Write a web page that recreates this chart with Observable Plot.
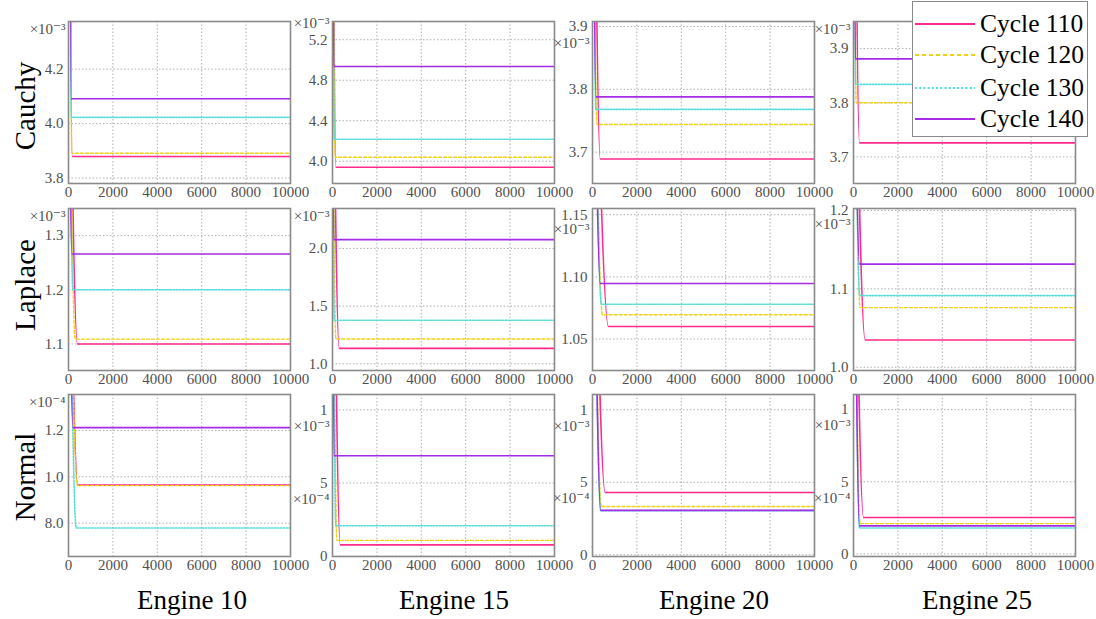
<!DOCTYPE html>
<html><head><meta charset="utf-8">
<script src="https://cdn.jsdelivr.net/npm/d3@7"></script>
<script src="https://cdn.jsdelivr.net/npm/@observablehq/plot@0.6"></script>
<style>
body{margin:0;background:#fff;}
#root{position:relative;width:1096px;height:619px;overflow:hidden;font-family:"Liberation Serif","DejaVu Serif",serif;background:#fff;}
.panel{position:absolute;background:transparent !important;overflow:visible;}
.panel text{font-family:"Liberation Serif","DejaVu Serif",serif !important;font-size:15px !important;fill:#505050;}
.rowlab{position:absolute;font-size:29px;color:#000;white-space:nowrap;transform:translate(-50%,-50%) rotate(-90deg);}
.collab{position:absolute;font-size:27px;color:#000;white-space:nowrap;transform:translate(-50%,-50%);}
#legend{position:absolute;left:912px;top:1px;width:176px;height:136px;border:1.5px solid #8a8a8a;background:#fff;z-index:10;box-sizing:border-box;}
.lrow{position:absolute;left:0;height:30px;display:flex;align-items:center;}
.lrow span{font-size:25.5px;margin-left:3px;color:#000;}
</style></head>
<body><div id="root"></div>
<script>
// ---------------- data ----------------
const cycles = ["Cycle 110", "Cycle 120", "Cycle 130", "Cycle 140"];
const engines = ["Engine 10", "Engine 15", "Engine 20", "Engine 25"];
const dists = ["Cauchy", "Laplace", "Normal"];
const iterTicks = [0, 2000, 4000, 6000, 8000, 10000];

// final loss (×10⁻³), per engine, in cycle order 110,120,130,140
const cauchyFinal = [
  [3.879, 3.891, 4.023, 4.091],
  [3.940, 4.040, 4.217, 4.935],
  [3.689, 3.744, 3.768, 3.788],
  [3.726, 3.800, 3.834, 3.881]];
const laplaceFinal = [
  [1.100, 1.109, 1.200, 1.266],
  [1.134, 1.215, 1.378, 2.076],
  [1.0601, 1.0695, 1.078, 1.0947],
  [1.0347, 1.076, 1.0914, 1.1316]];
const normalFinal = [
  [0.0964, 0.0962, 0.0779, 0.1212],
  [0.0775, 0.108, 0.208, 0.686],
  [0.429, 0.333, 0.304, 0.306],
  [0.252, 0.210, 0.180, 0.194]];

// iteration at which each curve levels off
const cauchyKnee = [[170, 150, 130, 120], [150, 120, 80, 50], [350, 200, 150, 150], [270, 120, 100, 80]];
const laplaceKnee = [[400, 300, 200, 150], [300, 150, 80, 50], [720, 450, 400, 350], [525, 300, 280, 270]];
const normalKnee = [[420, 400, 350, 200], [350, 200, 150, 60], [570, 400, 370, 370], [450, 300, 270, 270]];

// loss at iteration 0 (×10⁻³), per engine
const cauchyStart = [7.0, 8.5, 4.6, 4.8];
const laplaceStart = [1.9, 4.5, 1.45, 1.6];
const normalStart = [0.25, 3.5, 3.5, 3.5];

// y domains (×10⁻³)
const cauchyDomain = [[3.78, 4.375], [3.78, 5.38], [3.65, 3.908], [3.651, 3.95]];
const laplaceDomain = [[1.051, 1.35], [0.942, 2.346], [1.0247, 1.155], [0.9958, 1.2026]];
const normalDomain = [[0.0656, 0.1355], [-0.002, 1.105], [-0.012, 1.105], [-0.018, 1.105]];

// y ticks and their labels
const cauchyTicks = [[3.8, 4.0, 4.2], [4.0, 4.4, 4.8, 5.2], [3.7, 3.8, 3.9], [3.7, 3.8, 3.9]];
const cauchyTickLabels = [["3.8", "4.0", "4.2"], ["4.0", "4.4", "4.8", "5.2"], ["3.7", "3.8", "3.9"], ["3.7", "3.8", "3.9"]];
const laplaceTicks = [[1.1, 1.2, 1.3], [1.0, 1.5, 2.0], [1.05, 1.10, 1.15], [1.0, 1.1, 1.2]];
const laplaceTickLabels = [["1.1", "1.2", "1.3"], ["1.0", "1.5", "2.0"], ["1.05", "1.10", "1.15"], ["1.0", "1.1", "1.2"]];
const normalTicks = [[0.08, 0.10, 0.12], [0, 0.5, 1], [0, 0.5, 1], [0, 0.5, 1]];
const normalTickLabels = [["8.0", "1.0", "1.2"], ["0", "5", "1"], ["0", "5", "1"], ["0", "5", "1"]];

// exponent labels: [text, anchor value (null = top of frame)]
const cauchyExp = [[["×10⁻³", null]], [["×10⁻³", null]], [["×10⁻³", 3.9]], [["×10⁻³", null]]];
const laplaceExp = [[["×10⁻³", null]], [["×10⁻³", null]], [["×10⁻³", 1.15]], [["×10⁻³", 1.2]]];
const normalExp = [[["×10⁻⁴", null]], [["×10⁻³", 1], ["×10⁻⁴", 0.5]], [["×10⁻³", 1], ["×10⁻⁴", 0.5]], [["×10⁻³", 1], ["×10⁻⁴", 0.5]]];

// ---------------- styling / layout ----------------
const cycleStyle = [
  {stroke: "#ff2a8c", dash: null, w: 1.6},
  {stroke: "#ecd21a", dash: "3,2", w: 1.4},
  {stroke: "#55dcdc", dash: "1.5,1.5", w: 1.6},
  {stroke: "#a52be6", dash: null, w: 1.6}
];
const colLeft = [68, 332, 592, 853];
const rowTop = [21, 208, 394];
const PW = 222, PH = 162;
const ML = 48, MR = 14, MT = 14, MB = 26;

const rows = [
  {final: cauchyFinal, knee: cauchyKnee, start: cauchyStart, domain: cauchyDomain, ticks: cauchyTicks, labels: cauchyTickLabels, exp: cauchyExp},
  {final: laplaceFinal, knee: laplaceKnee, start: laplaceStart, domain: laplaceDomain, ticks: laplaceTicks, labels: laplaceTickLabels, exp: laplaceExp},
  {final: normalFinal, knee: normalKnee, start: normalStart, domain: normalDomain, ticks: normalTicks, labels: normalTickLabels, exp: normalExp}
];

const root = document.getElementById("root");

rows.forEach((R, ri) => {
  engines.forEach((eng, ei) => {
    const dom = R.domain[ei];
    const ticks = R.ticks[ei];
    const labs = R.labels[ei];
    const lineMarks = cycles.map((c, ci) => {
      const pts = [
        {it: 0, v: R.start[ei]},
        {it: R.knee[ei][ci], v: R.final[ei][ci]},
        {it: 10000, v: R.final[ei][ci]}
      ];
      const s = cycleStyle[ci];
      return Plot.line(pts, {x: "it", y: "v", stroke: s.stroke, strokeWidth: s.w,
        strokeDasharray: s.dash || undefined, curve: "monotone-x", clip: true});
    });
    const expMarks = R.exp[ei].map(([t, yv]) => {
      const top = yv === null;
      const topGap = (ri === 0 && ei === 1) ? 2 : 8;
      return Plot.text([{t, y: top ? dom[1] : yv}], {
        y: "y", text: "t", frameAnchor: "left", textAnchor: "end",
        dx: -3, dy: top ? topGap : (ri === 2 ? 16 : (ri === 0 ? 17 : 14))
      });
    });
    const chart = Plot.plot({
      width: PW + ML + MR, height: PH + MT + MB,
      marginLeft: ML, marginRight: MR, marginTop: MT, marginBottom: MB,
      style: "background:transparent;overflow:visible;font-family:'Liberation Serif',serif;font-size:15px;",
      x: {domain: [0, 10000], ticks: iterTicks, tickFormat: d => String(d), tickSize: 0, tickPadding: 3, label: null},
      y: {domain: dom, ticks: ticks, tickFormat: d => labs[ticks.indexOf(d)], tickSize: 0, tickPadding: 5, label: null},
      marks: [
        Plot.ruleX(iterTicks, {stroke: "#b0b0b0", strokeDasharray: "1.5,2", strokeWidth: 1}),
        Plot.ruleY(ticks, {stroke: "#b0b0b0", strokeDasharray: "1.5,2", strokeWidth: 1}),
        ...lineMarks,
        Plot.frame({stroke: "#8a8a8a", strokeWidth: 1.6}),
        ...expMarks
      ]
    });
    chart.classList.add("panel");
    chart.style.left = (colLeft[ei] - ML) + "px";
    chart.style.top = (rowTop[ri] - MT) + "px";
    root.appendChild(chart);
  });
});

// row labels
const rowLabelY = [106, 285, 477];
dists.forEach((d, i) => {
  const el = document.createElement("div");
  el.className = "rowlab";
  el.textContent = d;
  el.style.left = "25px";
  el.style.top = rowLabelY[i] + "px";
  root.appendChild(el);
});
// column labels
const colLabelX = [192, 454, 714, 977];
engines.forEach((e, i) => {
  const el = document.createElement("div");
  el.className = "collab";
  el.textContent = e;
  el.style.left = colLabelX[i] + "px";
  el.style.top = "600px";
  root.appendChild(el);
});

// legend
const leg = document.createElement("div");
leg.id = "legend";
const legRowY = [7, 38, 71, 102];
cycles.forEach((c, i) => {
  const s = cycleStyle[i];
  const row = document.createElement("div");
  row.className = "lrow";
  row.style.top = legRowY[i] + "px";
  row.innerHTML = `<svg width="64" height="30"><line x1="2" x2="62" y1="15" y2="15" stroke="${s.stroke}" stroke-width="2.2" ${s.dash ? `stroke-dasharray="${s.dash.split(",").map(v => +v * 1.4).join(",")}"` : ""}/></svg><span>${c}</span>`;
  leg.appendChild(row);
});
root.appendChild(leg);
</script>
</body></html>
